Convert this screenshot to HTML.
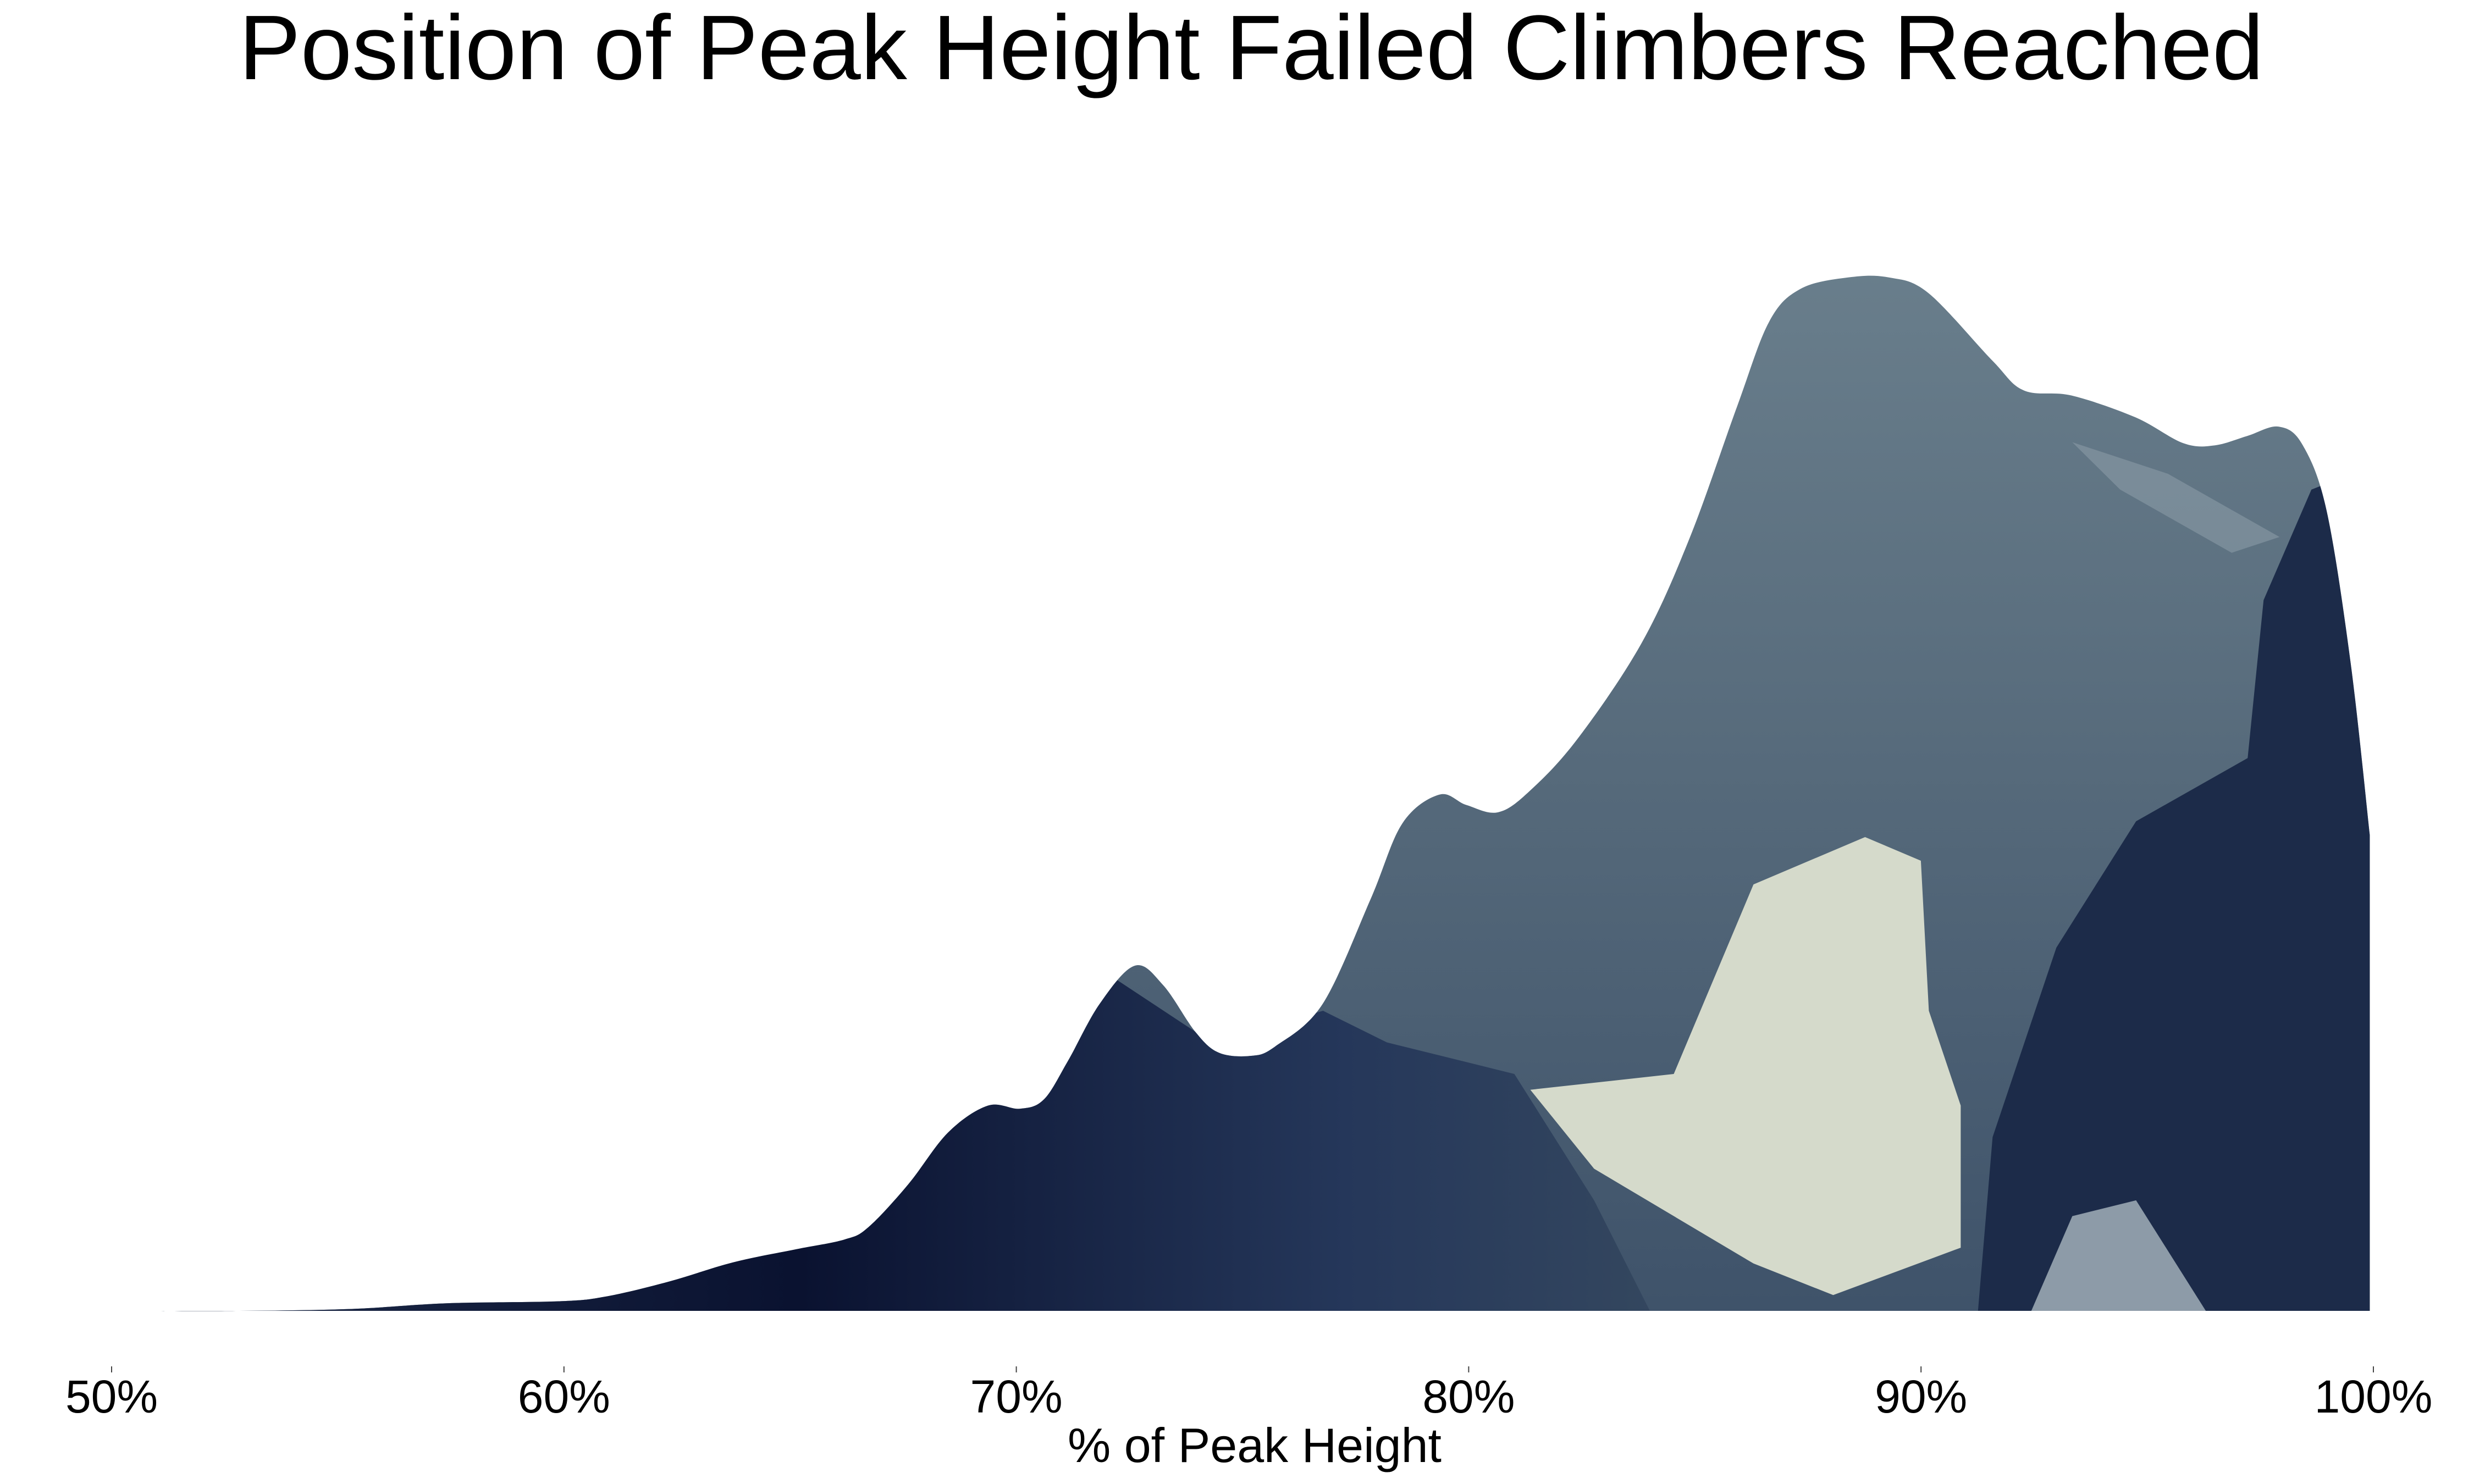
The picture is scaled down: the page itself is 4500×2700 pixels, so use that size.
<!DOCTYPE html>
<html><head><meta charset="utf-8">
<style>
html,body{margin:0;padding:0;background:#fff;}
svg{display:block;}
text{font-family:"Liberation Sans",Arial,sans-serif;fill:#000;}
</style></head>
<body>
<svg id="chart" width="4500" height="2700" viewBox="0 0 4500 2700" xmlns="http://www.w3.org/2000/svg">
  <text x="2276" y="144" font-size="167" text-anchor="middle" textLength="3683" lengthAdjust="spacingAndGlyphs">Position of Peak Height Failed Climbers Reached</text>
  <defs>
    <clipPath id="areaClip"><path id="clipPath" d=""/></clipPath>
    <linearGradient id="slate" x1="0" y1="0" x2="0" y2="1">
      <stop offset="0" stop-color="#6d828f"/>
      <stop offset="0.5" stop-color="#566a7b"/>
      <stop offset="1" stop-color="#3c5068"/>
    </linearGradient>
    <linearGradient id="darkfg" x1="0" y1="0" x2="1" y2="0">
      <stop offset="0" stop-color="#1e2c4a"/>
      <stop offset="0.45" stop-color="#0a1230"/>
      <stop offset="0.8" stop-color="#25375a"/>
      <stop offset="1" stop-color="#34475f"/>
    </linearGradient>
  </defs>
  <g id="area" clip-path="url(#areaClip)">
    <rect x="0" y="300" width="4500" height="2200" fill="url(#slate)"/>
    <g transform="scale(2.8995,2.8735)">
      <polygon fill="url(#darkfg)" points="60,840 60,800 420,800 560,760 600,700 700,620 760,660 830,640 870,660 950,680 1000,760 1040,840"/>
      <polygon fill="#d5dacb" points="960,690 1050,680 1100,560 1170,530 1205,545 1210,640 1230,700 1230,790 1150,820 1100,800 1000,740"/>
      <polygon fill="#1c2b49" points="1240,840 1250,720 1290,600 1340,520 1410,480 1420,380 1450,310 1500,290 1500,840"/>
      <polygon fill="#8d9ba8" points="1270,840 1300,770 1340,760 1390,840"/>
      <polygon fill="#8a9ba6" opacity="0.6" points="1300,280 1360,300 1430,340 1400,350 1330,310"/>
    </g>
  </g>
  <g id="xaxis"></g>
  <text x="2282" y="2660" font-size="88" text-anchor="middle">% of Peak Height</text>
</svg>
<script>
const xValues = [50.42,52.82,55.28,57.40,59.86,60.92,62.33,63.74,65.15,66.20,66.73,67.61,68.49,69.37,70.08,70.61,71.14,71.84,72.62,73.25,73.96,74.48,75.19,75.72,76.77,77.83,78.53,79.35,79.95,80.65,81.36,82.41,83.82,84.88,85.93,86.64,87.34,88.40,89.28,90.16,91.57,92.27,93.33,94.74,95.80,96.50,97.21,97.91,98.44,98.97,99.50,99.92];
const densityValues = [0,0,0.18,0.73,0.92,1.38,2.84,4.68,5.96,6.88,8.07,12.2,17.2,19.8,19.5,20.4,24.1,29.6,33.3,31.4,26.9,24.9,24.6,25.5,29.6,39.7,47.0,49.8,48.8,48.1,50.2,55.2,64.4,74.5,87.2,95.4,98.6,99.7,99.7,98.2,91.7,88.8,88.3,86.2,83.7,83.5,84.4,85.3,83.5,77.1,62.4,45.9];
const tickValues = [50,60,70,80,90,100];
const tickLabels = ["50%","60%","70%","80%","90%","100%"];

const X0 = 203, X1 = 4317, D0 = 50, D1 = 100;
const BASE = 2385, PXPER = 18.86;
function xScale(v){ return X0 + (v - D0) / (D1 - D0) * (X1 - X0); }
function yScale(d){ return BASE - d * PXPER; }

const pts = xValues.map((v,i)=>[xScale(v), yScale(densityValues[i])]);
let d = "M" + pts[0][0] + "," + BASE + " L" + pts[0][0] + "," + pts[0][1];
for (let i = 0; i < pts.length - 1; i++) {
  const p0 = pts[i-1] || pts[i], p1 = pts[i], p2 = pts[i+1], p3 = pts[i+2] || p2;
  const c1x = p1[0] + (p2[0]-p0[0])/6, c1y = p1[1] + (p2[1]-p0[1])/6;
  const c2x = p2[0] - (p3[0]-p1[0])/6, c2y = p2[1] - (p3[1]-p1[1])/6;
  d += " C" + c1x + "," + c1y + " " + c2x + "," + c2y + " " + p2[0] + "," + p2[1];
}
d += " L" + pts[pts.length-1][0] + "," + BASE + " Z";
document.getElementById('clipPath').setAttribute('d', d);

const NS = "http://www.w3.org/2000/svg";
const ax = document.getElementById('xaxis');
tickValues.forEach((t,i)=>{
  const x = xScale(t);
  const ln = document.createElementNS(NS,'line');
  
  
  ln.setAttribute('x1', x); ln.setAttribute('x2', x);
  ln.setAttribute('y1', 2486); ln.setAttribute('y2', 2497);
  ln.setAttribute('stroke', '#444'); ln.setAttribute('stroke-width', 2);
  ax.appendChild(ln);
  const tx = document.createElementNS(NS,'text');
  
  
  tx.setAttribute('x', x); tx.setAttribute('y', 2570);
  tx.setAttribute('font-size', 84);
  tx.setAttribute('text-anchor', 'middle');
  tx.textContent = tickLabels[i];
  ax.appendChild(tx);
});
</script>
</body></html>
